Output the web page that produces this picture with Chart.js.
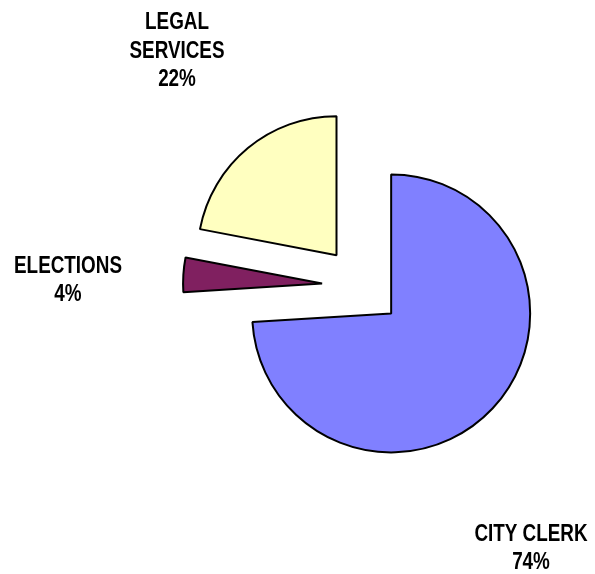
<!DOCTYPE html>
<html>
<head>
<meta charset="utf-8">
<script src="https://cdn.jsdelivr.net/npm/chart.js@4"></script>
<style>
  html, body { margin: 0; padding: 0; background: #fff; }
  #wrap { width: 595px; height: 574px; position: relative; }
</style>
</head>
<body>
<div id="wrap"><canvas id="myChart"></canvas></div>
<script>
const categories = ["CITY CLERK", "ELECTIONS", "LEGAL SERVICES"];
const labelLines = [["CITY CLERK"], ["ELECTIONS"], ["LEGAL", "SERVICES"]];
const values = [74, 4, 22];
const colors = ["#8080FF", "#802060", "#FFFFC0"];

const PIE_RADIUS = 139;
const EXPLODE = 40;

// text anchors for the outside labels (centre x, baseline of last line)
const labelAnchors = [
  { x: 531, y: 569 },
  { x: 68, y: 301 },
  { x: 177, y: 86 },
];

// Chart.js "offset" also shrinks the slice angle and grows the radius,
// so push every slice out ourselves instead
const explodeSlices = {
  id: "explodeSlices",
  afterUpdate(chart) {
    const baseDraw = Chart.ArcElement.prototype.draw;
    chart.getDatasetMeta(0).data.forEach((arc) => {
      if (arc._exploded) return;
      arc._exploded = true;
      arc.draw = function (ctx) {
        const mid = (this.startAngle + this.endAngle) / 2;
        ctx.save();
        ctx.translate(Math.cos(mid) * EXPLODE, Math.sin(mid) * EXPLODE);
        baseDraw.call(this, ctx);
        ctx.restore();
      };
    });
  },
};

const outsideLabels = {
  id: "outsideLabels",
  afterDatasetsDraw(chart) {
    const ctx = chart.ctx;
    const data = chart.data.datasets[0].data;
    const total = data.reduce((a, b) => a + b, 0);
    ctx.save();
    ctx.fillStyle = "#000";
    ctx.textAlign = "center";
    ctx.textBaseline = "alphabetic";
    ctx.font = "bold 23px 'Liberation Sans', Arial, sans-serif";
    const lh = 28.5;
    data.forEach((v, i) => {
      const lines = labelLines[i].concat([Math.round((v / total) * 100) + "%"]);
      const a = labelAnchors[i];
      lines.forEach((t, j) => {
        ctx.save();
        ctx.translate(a.x, a.y - (lines.length - 1 - j) * lh);
        ctx.scale(0.82, 1);
        ctx.fillText(t, 0, 0);
        ctx.restore();
      });
    });
    ctx.restore();
  },
};

const ctx = document.getElementById("myChart").getContext("2d");
const myChart = new Chart(ctx, {
  type: "pie",
  data: {
    labels: categories,
    datasets: [
      {
        data: values,
        backgroundColor: colors,
        borderColor: "#000",
        borderWidth: 2,
        borderJoinStyle: "bevel",
      },
    ],
  },
  options: {
    responsive: true,
    maintainAspectRatio: false,
    animation: false,
    radius: PIE_RADIUS,
    layout: { padding: { left: 202, right: 73, top: 126, bottom: 128 } },
    plugins: {
      legend: { display: false },
      tooltip: { enabled: false },
    },
  },
  plugins: [explodeSlices, outsideLabels],
});
</script>
</body>
</html>
